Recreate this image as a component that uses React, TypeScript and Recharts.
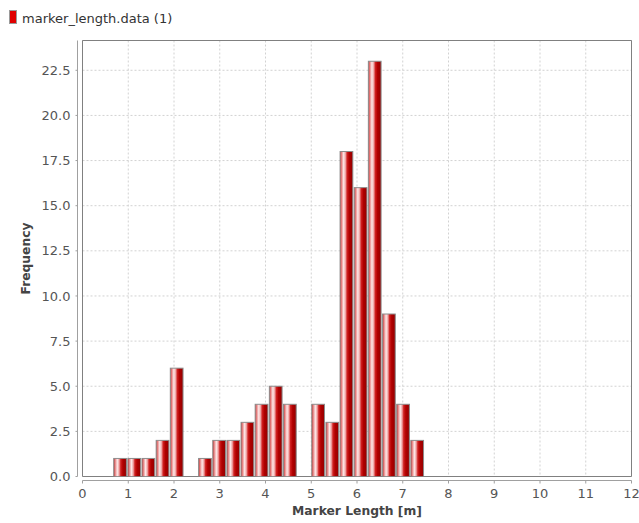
import React from 'react';
import { ComposedChart, Bar, XAxis, YAxis, CartesianGrid, ReferenceArea, Legend } from 'recharts';

// Histogram bins (centre of each bin, in metres) and their counts
const binCenters = [
  0.815, 1.124, 1.433, 1.743, 2.052, 2.361, 2.67, 2.98, 3.289, 3.598, 3.907,
  4.217, 4.526, 4.835, 5.144, 5.454, 5.763, 6.072, 6.381, 6.691, 7.0, 7.309,
];
const frequencies = [1, 1, 1, 2, 6, 0, 1, 2, 2, 3, 4, 5, 4, 0, 4, 3, 18, 16, 23, 9, 4, 2];
const binWidth = 0.3093;

const xTicks = [0, 1, 2, 3, 4, 5, 6, 7, 8, 9, 10, 11, 12];
const yTicks = [0, 2.5, 5, 7.5, 10, 12.5, 15, 17.5, 20, 22.5];
const xDomain: [number, number] = [0, 12];
const yDomain: [number, number] = [0, 24.15];

const seriesName = 'marker_length.data (1)';
const xLabel = 'Marker Length [m]';
const yLabel = 'Frequency';

const data = binCenters.map((x, i) => ({ x, count: frequencies[i] }));

const W = 639;
const H = 523;
const MARGIN = { top: 40.5, right: 7.5, bottom: 0, left: 0 };
const Y_AXIS_W = 82.5;
const X_AXIS_H = 46.5;
const PLOT_W = W - MARGIN.left - MARGIN.right - Y_AXIS_W;
const BAR_PX = (binWidth * PLOT_W) / (xDomain[1] - xDomain[0]);

const FONT = 'DejaVu Sans';
const tickStyle = { fontSize: 13, fill: '#555555', fontFamily: FONT };
const axisGray = '#a0a0a0';

const GradientBar = (props: any) => {
  const { x, y, width, height } = props;
  if (!height || height <= 0) return <g />;
  return (
    <rect
      x={x}
      y={y}
      width={width}
      height={height}
      fill="url(#barGradient)"
      stroke="#8c8c8c"
      strokeWidth={1}
    />
  );
};

const YTitle = (props: any) => {
  const vb = props.viewBox || { x: 0, y: 0, width: 0, height: 0 };
  const cx = vb.x + 29.5;
  const cy = vb.y + vb.height / 2;
  return (
    <text
      x={cx}
      y={cy}
      transform={`rotate(-90, ${cx}, ${cy})`}
      textAnchor="middle"
      fontFamily={FONT}
      fontWeight="bold"
      fontSize={12.3}
      fill="#444444"
    >
      {yLabel}
    </text>
  );
};

const XTitle = (props: any) => {
  const vb = props.viewBox || { x: 0, y: 0, width: 0, height: 0 };
  return (
    <text
      x={vb.x + vb.width / 2}
      y={vb.y + 38.5}
      textAnchor="middle"
      fontFamily={FONT}
      fontWeight="bold"
      fontSize={12.3}
      fill="#444444"
    >
      {xLabel}
    </text>
  );
};

const LegendContent = (props: any) => {
  const label = props.payload && props.payload[0] ? props.payload[0].value : seriesName;
  return (
    <svg width={240} height={30} style={{ display: 'block' }}>
      <rect x={9.5} y={10.5} width={7} height={13} fill="#e00000" stroke="#9a9a9a" />
      <text x={22} y={22.5} fontSize={13} fontFamily={FONT} fill="#333333">
        {label}
      </text>
    </svg>
  );
};

export default function App() {
  return (
    <div style={{ position: 'absolute', left: 0, top: 0, width: W, height: H, background: '#ffffff' }}>
      <ComposedChart width={W} height={H} data={data} margin={MARGIN}>
        <defs>
          <linearGradient id="barGradient" x1="0" y1="0" x2="1" y2="0">
            <stop offset="0%" stopColor="#c83030" />
            <stop offset="13%" stopColor="#e98c8c" />
            <stop offset="28%" stopColor="#fde9e9" />
            <stop offset="42%" stopColor="#f0a6a6" />
            <stop offset="55%" stopColor="#d02020" />
            <stop offset="72%" stopColor="#b00000" />
            <stop offset="100%" stopColor="#920000" />
          </linearGradient>
        </defs>
        <CartesianGrid stroke="#d2d2d2" strokeDasharray="2 2" />
        <XAxis
          dataKey="x"
          type="number"
          domain={xDomain}
          ticks={xTicks}
          interval={0}
          allowDataOverflow
          height={X_AXIS_H}
          tick={tickStyle}
          tickSize={3}
          tickMargin={9}
          axisLine={{ stroke: axisGray, transform: 'translate(0,4)' }}
          tickLine={{ stroke: axisGray, transform: 'translate(0,4)' }}
          label={<XTitle />}
        />
        <YAxis
          type="number"
          domain={yDomain}
          ticks={yTicks}
          interval={0}
          allowDataOverflow
          width={Y_AXIS_W}
          tick={tickStyle}
          tickSize={2}
          tickMargin={10}
          tickFormatter={(v: number) => v.toFixed(1)}
          axisLine={{ stroke: axisGray, transform: 'translate(-5,0)' }}
          tickLine={{ stroke: axisGray, transform: 'translate(-5,0)' }}
          label={<YTitle />}
        />
        <Legend
          layout="vertical"
          align="center"
          verticalAlign="middle"
          wrapperStyle={{ top: 0, left: 0, width: 240, height: 30 }}
          content={<LegendContent />}
        />
        <Bar
          dataKey="count"
          name={seriesName}
          barSize={BAR_PX}
          fill="#d00000"
          shape={<GradientBar />}
          isAnimationActive={false}
        />
        <ReferenceArea
          x1={xDomain[0]}
          x2={xDomain[1]}
          y1={yDomain[0]}
          y2={yDomain[1]}
          fill="none"
          fillOpacity={0}
          stroke="#808080"
          strokeWidth={1}
          ifOverflow="visible"
        />
      </ComposedChart>
    </div>
  );
}
